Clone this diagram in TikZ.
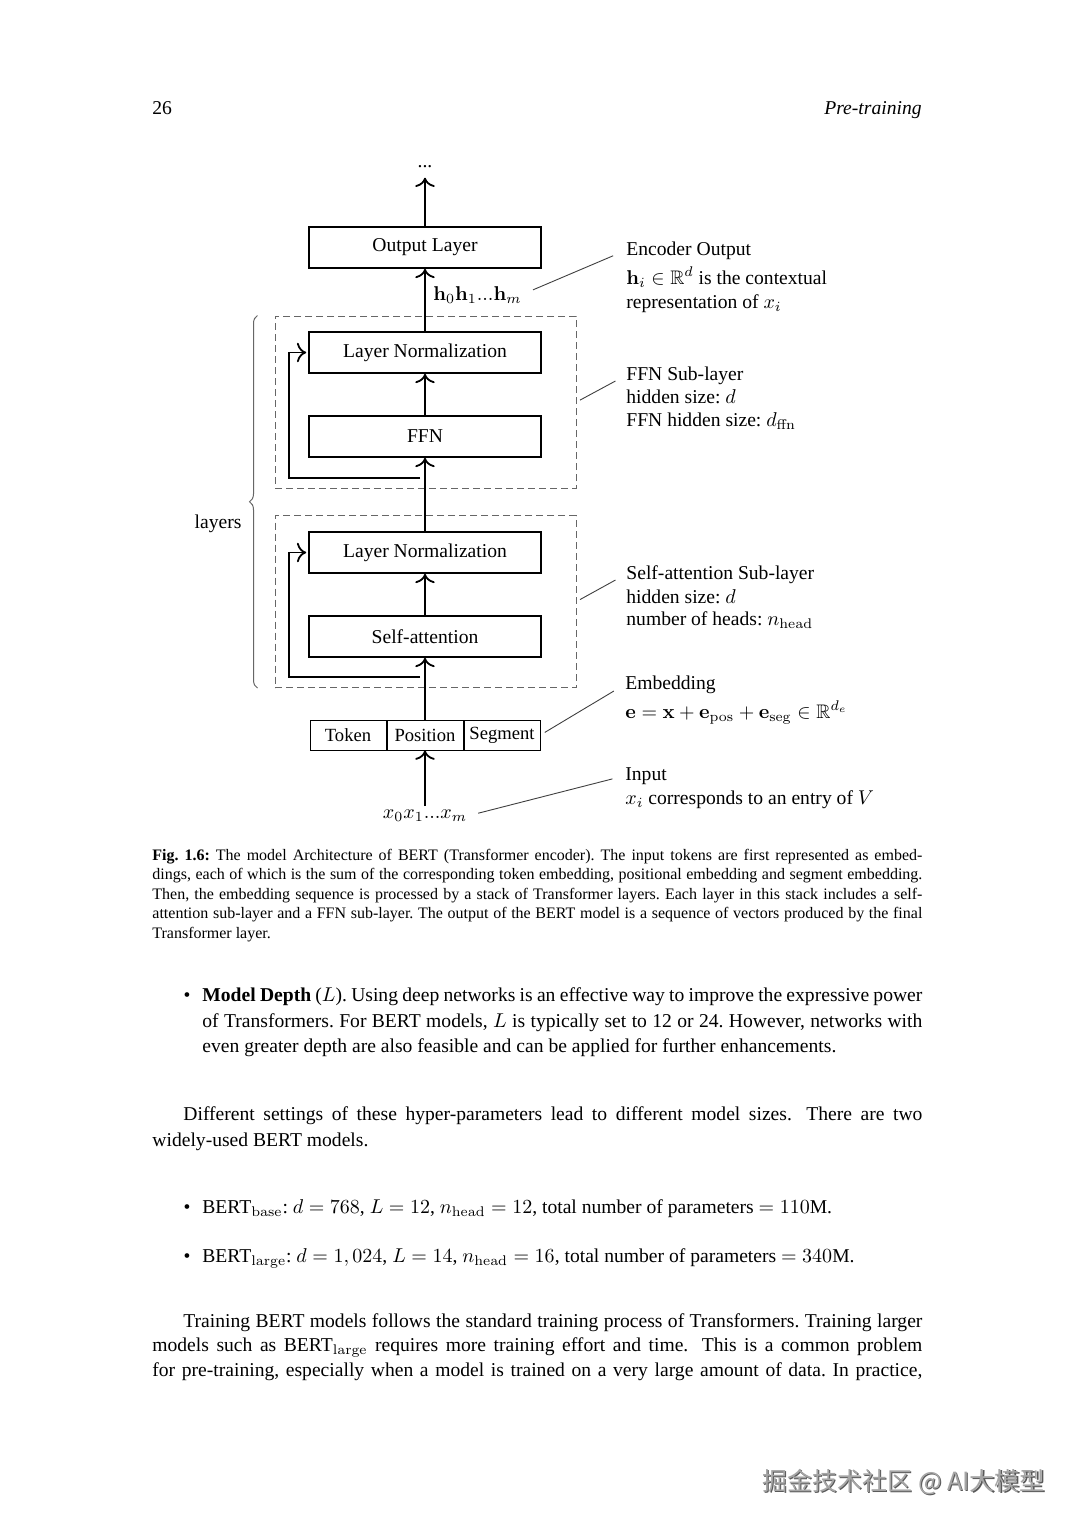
\documentclass[tikz,border=0pt]{standalone}
\usepackage{amsmath,amssymb}
\usepackage[no-math]{fontspec}
\setmainfont{Liberation Serif}
\newfontfamily\cjk{Noto Sans CJK SC}
\usetikzlibrary{positioning,arrows.meta,decorations.pathreplacing}
\newcommand\bodyfont{\fontsize{9.8}{12}\selectfont\frenchspacing}
\newcommand\capfont{\fontsize{8}{10}\selectfont\frenchspacing}
\tikzset{
  block/.style={draw,line width=0.8pt,minimum width=116pt,minimum height=20.5pt,inner sep=0pt,font=\bodyfont},
  embbox/.style={draw,line width=0.5pt,minimum width=38pt,minimum height=15pt,inner sep=0pt,font=\fontsize{9.3}{11}\selectfont},
  sublayer/.style={draw=black!60,line width=0.5pt,dash pattern=on 3.5pt off 2pt,minimum width=150.5pt,minimum height=86pt,inner sep=0pt},
  flow/.style={-{To[scale=1.3]},line width=0.9pt},
  lead/.style={draw=black!75,line width=0.45pt},
  brc/.style={decorate,decoration={brace,amplitude=4pt},draw=black!60,line width=0.5pt},
  note/.style={anchor=base west,inner sep=0pt,font=\bodyfont},
  capline/.style={anchor=base west,inner sep=0pt,font=\capfont},
}

\begin{document}
\begin{tikzpicture}[x=0.5pt,y=-0.5pt]
  \path[fill=white] (0,0) rectangle (1080,1528);
  \useasboundingbox (0,0) rectangle (1080,1528);

  % running head
  \node[note] (pno) at (152,114) {26};
  \node[note,anchor=base east] (head) at (922,114) {\textit{Pre-training}};

  % encoder stack
  \node[block] (out) at (425,247.5) {Output Layer};
  \node[sublayer] (ffnlay) at (425.5,402) {};
  \node[block] (ln1) at (425,352.5) {Layer Normalization};
  \node[block] (ffn) at (425,436.5) {FFN};
  \node[sublayer] (attlay) at (425.5,601.5) {};
  \node[block] (ln2) at (425,552.5) {Layer Normalization};
  \node[block] (att) at (425,636.5) {Self-attention};

  \node[embbox] (pos) at (425,735) {Position};
  \node[embbox,left=0pt of pos] (tok) {Token};
  \node[embbox,right=0pt of pos] (seg) {Segment};

  \node[note,anchor=base] (dots) at (425,167) {...};
  \node[note,anchor=base west] (hs) at (433,300) {$\mathbf{h}_0\mathbf{h}_1...\mathbf{h}_m$};
  \node[note,anchor=base,inner sep=1.5pt] (xs) at (425,818) {$x_0x_1...x_m$};
  \node[note,anchor=base] (lay) at (218,528) {layers};

  \draw[flow] (xs) -- (pos);
  \draw[flow] (pos) -- (att);
  \draw[flow] (att) -- (ln2);
  \draw[flow] (ln2) -- (ffn);
  \draw[flow] (ffn) -- (ln1);
  \draw[flow] (ln1) -- (out);
  \draw[flow,shorten >=5pt] (out) -- (dots);

  % residual connections
  \coordinate (res1) at (420,478);
  \coordinate (bend1) at (289,478);
  \draw[flow,shorten >=1pt] (res1) -- (bend1) |- (ln1.west);
  \coordinate (res2) at (420,677);
  \coordinate (bend2) at (289,677);
  \draw[flow,shorten >=1pt] (res2) -- (bend2) |- (ln2.west);

  \draw[brc] ([xshift=-8.5pt]attlay.south west) -- ([xshift=-8.5pt]ffnlay.north west);

  % notes on the right
  \node[note] (enc) at (626,255) {Encoder Output};
  \node[note] (enc2) at (626,284) {$\mathbf{h}_i\in\mathbb{R}^d$ is the contextual};
  \node[note] (enc3) at (626,308) {representation of $x_i$};
  \node[note] (ffnn) at (626,380) {FFN Sub-layer};
  \node[note] (ffnn2) at (626,403) {hidden size: $d$};
  \node[note] (ffnn3) at (626,426) {FFN hidden size: $d_{\mathrm{ffn}}$};
  \node[note] (attn) at (626,579) {Self-attention Sub-layer};
  \node[note] (attn2) at (626,603) {hidden size: $d$};
  \node[note] (attn3) at (626,625) {number of heads: $n_{\mathrm{head}}$};
  \node[note] (embn) at (625,689) {Embedding};
  \node[note] (embn2) at (625,718) {$\mathbf{e}=\mathbf{x}+\mathbf{e}_{\mathrm{pos}}+\mathbf{e}_{\mathrm{seg}}\in\mathbb{R}^{d_e}$};
  \node[note] (inpn) at (625,780) {Input};
  \node[note] (inpn2) at (625,804) {$x_i$ corresponds to an entry of $V$};

  \draw[lead,shorten <=6pt,shorten >=7pt] (hs.east) -- (enc.west);
  \draw[lead,shorten <=2pt,shorten >=6pt] (ffnlay.east) -- (ffnn.west);
  \draw[lead,shorten <=2pt,shorten >=6pt] (attlay.east) -- (attn.west);
  \draw[lead,shorten <=2.5pt,shorten >=6.5pt] (seg.east) -- (embn.west);
  \draw[lead,shorten <=4pt,shorten >=6.5pt] (xs.east) -- (inpn.west);

  % caption
  \node[capline] (cap1) at (152,860) {\makebox[385pt][s]{\textbf{Fig.\ 1.6:} The model Architecture of BERT (Transformer encoder). The input tokens are first represented as embed-}};
  \node[capline] (cap2) at (152,879.5) {\makebox[385pt][s]{dings, each of which is the sum of the corresponding token embedding, positional embedding and segment embedding.}};
  \node[capline] (cap3) at (152,899) {\makebox[385pt][s]{Then, the embedding sequence is processed by a stack of Transformer layers. Each layer in this stack includes a self-}};
  \node[capline] (cap4) at (152,918.5) {\makebox[385pt][s]{attention sub-layer and a FFN sub-layer. The output of the BERT model is a sequence of vectors produced by the final}};
  \node[capline] (cap5) at (152,938) {Transformer layer.};

  % body text
  \node[note,anchor=base] (b1) at (187,1001) {\textbullet};
  \node[note] (t1) at (202,1001) {\makebox[360pt][s]{\textbf{Model Depth} ($L$). Using deep networks is an effective way to improve the expressive power}};
  \node[note] (t2) at (202,1027) {\makebox[360pt][s]{of Transformers. For BERT models, $L$ is typically set to 12 or 24. However, networks with}};
  \node[note] (t3) at (202,1052) {even greater depth are also feasible and can be applied for further enhancements.};

  \node[note] (p1) at (183,1120) {\makebox[369.5pt][s]{Different settings of these hyper-parameters lead to different model sizes.\hspace{0.3em} There are two}};
  \node[note] (p2) at (152,1146) {widely-used BERT models.};

  \node[note,anchor=base] (b2) at (187,1213) {\textbullet};
  \node[note] (t4) at (202,1213) {BERT$_{\mathrm{base}}$: $d=768$, $L=12$, $n_{\mathrm{head}}=12$, total number of parameters $=110$M.};
  \node[note,anchor=base] (b3) at (187,1262) {\textbullet};
  \node[note] (t5) at (202,1262) {BERT$_{\mathrm{large}}$: $d=1,024$, $L=14$, $n_{\mathrm{head}}=16$, total number of parameters $=340$M.};

  \node[note] (q1) at (183,1327) {\makebox[369.5pt][s]{Training BERT models follows the standard training process of Transformers. Training larger}};
  \node[note] (q2) at (152,1351) {\makebox[385pt][s]{models such as BERT$_{\mathrm{large}}$ requires more training effort and time.\hspace{0.3em} This is a common problem}};
  \node[note] (q3) at (152,1376) {\makebox[385pt][s]{for pre-training, especially when a model is trained on a very large amount of data. In practice,}};

  % watermark
  \node[anchor=base west,inner sep=0pt,font=\cjk\fontsize{12.5}{14}\selectfont,text=black!65] (wmshade) at (763.5,1491.5) {掘金技术社区 @ AI大模型};
  \node[anchor=base west,inner sep=0pt,font=\cjk\fontsize{12.5}{14}\selectfont,text=black!35] (wm) at (762,1490) {掘金技术社区 @ AI大模型};
\end{tikzpicture}
\end{document}
